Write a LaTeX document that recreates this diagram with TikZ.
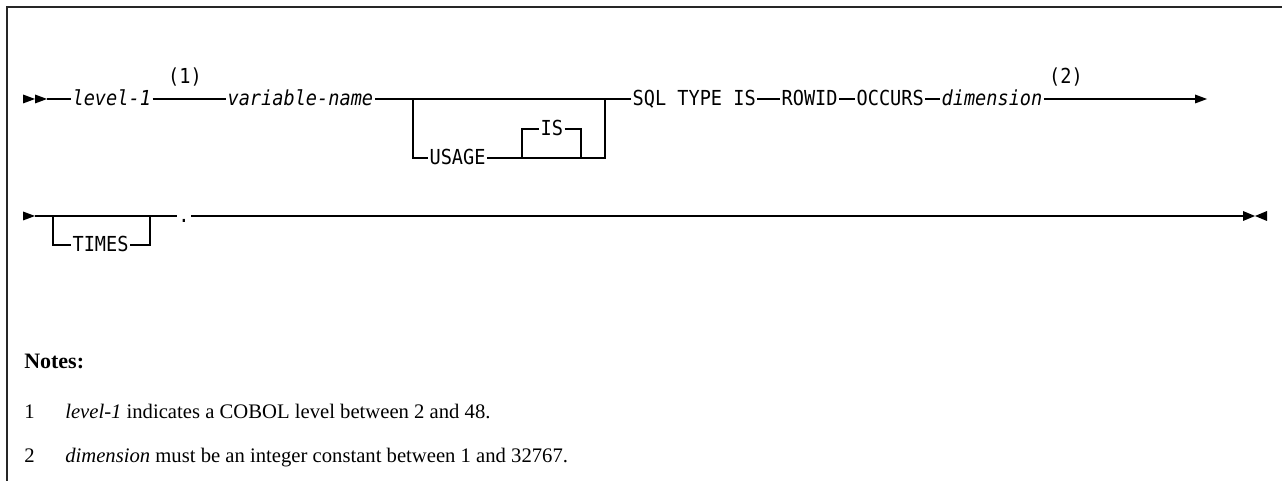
\documentclass[tikz,border=0pt]{standalone}
\usepackage{fontspec}
\setmainfont{Liberation Serif}
\newfontfamily\diagmono[FakeStretch=0.9]{DejaVu Sans Mono}
\tikzset{
  rr/.style={font=\diagmono\fontsize{15.5pt}{17pt}\selectfont, inner xsep=1pt, inner ysep=0pt,
    text height=11.25pt, text depth=0.75pt, anchor=west},
  kw/.style={rr},
  var/.style={rr, font=\diagmono\itshape\fontsize{15.5pt}{17pt}\selectfont},
  fnref/.style={rr, anchor=center},
  ln/.style={line width=0.9pt, draw=black},
  tipfill/.style={fill=black},
  note/.style={font=\fontsize{15.5pt}{18pt}\selectfont, anchor=base west, inner sep=0pt},
  frame/.style={line width=1.1pt, draw=black!85}
}
\begin{document}
\begin{tikzpicture}[x=0.75pt,y=-0.75pt]
\useasboundingbox (0,0) rectangle (1282,481);
\draw[frame] (7,481) -- (7,7) -- (1282,7);

% ---- row 1 ----
\coordinate (s1) at (47,99);
\node[var] (lev) at (71,99) {level-1};
\node[fnref] (n1) at (185,77) {(1)};
\node[var] (vn) at (226,99) {variable-name};
\coordinate (b1l) at (413,99);
\coordinate (b1r) at (605,99);
\node[kw] (usage) at (428,158) {USAGE};
\coordinate (isl) at (522,158);
\coordinate (isr) at (581,158);
\node[kw] (is) at (539,129) {IS};
\node[kw] (sql) at (631,99) {SQL TYPE IS};
\node[kw] (rowid) at (780,99) {ROWID};
\node[kw] (occ) at (855,99) {OCCURS};
\node[var] (dim) at (940,99) {dimension};
\node[fnref] (n2) at (1066,77) {(2)};
\coordinate (e1) at (1195,99);

\fill[tipfill] (23,94.5) -- (35,99) -- (23,103.5) -- cycle;
\fill[tipfill] (35,94.5) -- (47,99) -- (35,103.5) -- cycle;
\draw[ln] (s1) -- (lev.west);
\draw[ln] (lev.east) -- (vn.west);
\draw[ln] (vn.east) -- (b1l) -- (b1r) -- (sql.west);
\draw[ln] (b1l) |- (usage.west);
\draw[ln] (usage.east) -- (isl) |- (is.west);
\draw[ln] (is.east) -| (isr);
\draw[ln] (isl) -- (isr) -| (b1r);
\draw[ln] (sql.east) -- (rowid.west);
\draw[ln] (rowid.east) -- (occ.west);
\draw[ln] (occ.east) -- (dim.west);
\draw[ln] (dim.east) -- (e1);
\fill[tipfill] (e1) ++(0,-4.5) -- ++(12,4.5) -- ++(-12,4.5) -- cycle;

% ---- row 2 ----
\coordinate (s2) at (35,216);
\coordinate (b2l) at (53,216);
\coordinate (b2r) at (150,216);
\node[kw] (times) at (71,245) {TIMES};
\node[fnref] (dot) at (184,216) {.};
\coordinate (e2) at (1243,216);

\fill[tipfill] (23,211.5) -- (35,216) -- (23,220.5) -- cycle;
\draw[ln] (s2) -- (b2r) -- (dot.west);
\draw[ln] (b2l) |- (times.west);
\draw[ln] (times.east) -| (b2r);
\draw[ln] (dot.east) -- (e2);
\fill[tipfill] (e2) ++(0,-5) -- ++(12,5) -- ++(-12,5) -- cycle;
\fill[tipfill] (e2) ++(24,-5) -- ++(-12,5) -- ++(12,5) -- cycle;

% ---- notes ----
\node[note, font=\bfseries\fontsize{16.5pt}{18pt}\selectfont] (notes) at (24,368) {Notes:};
\node[note] (k1) at (24,418) {1};
\node[note] (t1) at (65,418) {\textit{level-1} indicates a COBOL level between 2 and 48.};
\node[note] (k2) at (24,462) {2};
\node[note] (t2) at (65,462) {\textit{dimension} must be an integer constant between 1 and 32767.};
\end{tikzpicture}
\end{document}
